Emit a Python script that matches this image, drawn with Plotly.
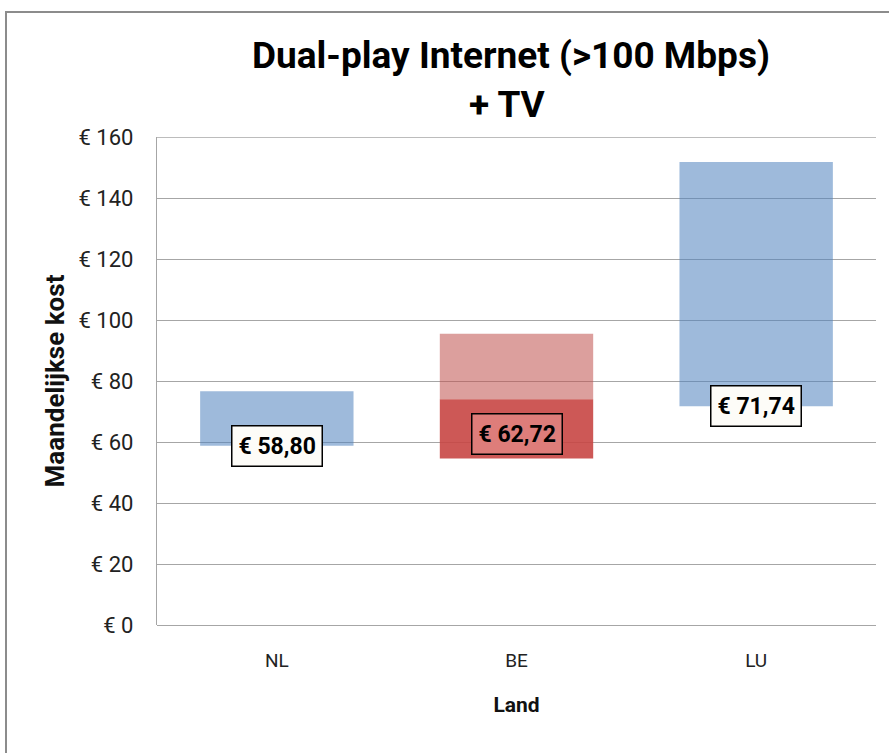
import plotly.graph_objects as go

categories = ["NL", "BE", "LU"]
# floating ranges (min .. max) of monthly cost
range_low = [58.80, 54.6, 71.74]
range_high = [76.6, 74.0, 151.8]
# extra (lighter) range on top for BE
extra_low = [None, 74.0, None]
extra_high = [None, 95.5, None]
label_values = [58.80, 62.72, 71.74]
y_ticks = [0, 20, 40, 60, 80, 100, 120, 140, 160]

FONT = "Roboto, sans-serif"

main_colors = ["rgba(79,129,189,0.55)", "rgba(200,70,68,0.9)", "rgba(79,129,189,0.55)"]

fig = go.Figure()
fig.add_trace(go.Bar(
    x=categories,
    y=[h - l for h, l in zip(range_high, range_low)],
    base=range_low,
    marker=dict(color=main_colors, line=dict(width=0)),
    width=0.64,
    hoverinfo="skip",
))
fig.add_trace(go.Bar(
    x=categories,
    y=[(h - l) if h is not None else None for h, l in zip(extra_high, extra_low)],
    base=extra_low,
    marker=dict(color="rgba(192,80,77,0.55)", line=dict(width=0)),
    width=0.64,
    hoverinfo="skip",
))

label_bg = ["#fdfcf8", "#de7d7a", "#fdfcf8"]
for c, v, bg in zip(categories, label_values, label_bg):
    fig.add_annotation(
        x=c, y=v, xref="x", yref="y",
        text="<b>€ " + f"{v:.2f}".replace(".", ",") + "</b>",
        showarrow=False,
        font=dict(family=FONT, size=23, color="black"),
        bgcolor=bg, bordercolor="black", borderwidth=1.5, borderpad=6,
        xanchor="center", yanchor="middle",
    )

L, R, T, B = 157, 13, 137, 128
W, H = 889, 753
pw, ph = W - L - R, H - T - B

def px(x):
    return (x - L) / pw

def py(y):
    return (H - B - y) / ph

fig.add_annotation(x=px(511), y=py(55), xref="paper", yref="paper",
                   text="<b>Dual-play Internet (>100 Mbps)</b>", showarrow=False,
                   font=dict(family=FONT, size=37, color="black"),
                   xanchor="center", yanchor="middle")
fig.add_annotation(x=px(507), y=py(105), xref="paper", yref="paper",
                   text="<b>+ TV</b>", showarrow=False,
                   font=dict(family=FONT, size=37, color="black"),
                   xanchor="center", yanchor="middle")

# outer chart frame
fig.add_shape(type="rect", xref="paper", yref="paper",
              x0=px(6), x1=px(900), y0=py(760), y1=py(12),
              line=dict(color="#8c8c8c", width=2), layer="below")
# top gridline (at the axis maximum)
fig.add_shape(type="line", xref="paper", yref="y",
              x0=0, x1=1, y0=y_ticks[-1], y1=y_ticks[-1],
              line=dict(color="#a6a6a6", width=1.4), layer="below")

fig.update_layout(
    width=W, height=H,
    margin=dict(l=L, r=R, t=T, b=B),
    paper_bgcolor="white", plot_bgcolor="white",
    barmode="overlay", showlegend=False,
    font=dict(family=FONT, color="#222"),
)
fig.update_xaxes(
    showgrid=False, showline=False, zeroline=False,
    tickfont=dict(family=FONT, size=19, color="#222"),
    ticklabelstandoff=22,
    title=dict(text="<b>Land</b>", font=dict(family=FONT, size=21, color="#111"), standoff=26),
)
fig.update_yaxes(
    range=[0, 160], tickvals=y_ticks,
    ticktext=["€ " + str(t) for t in y_ticks],
    showgrid=True, gridcolor="#a6a6a6", gridwidth=1.4,
    showline=True, linecolor="#a6a6a6", linewidth=1.4,
    zeroline=True, zerolinecolor="#a6a6a6", zerolinewidth=1.4,
    tickfont=dict(family=FONT, size=22, color="#222"),
    ticklabelstandoff=18,
    title=dict(text="<b>Maandelijkse kost</b>", font=dict(family=FONT, size=26, color="#111"), standoff=6),
)

fig.write_html("out.html",
               config={"displayModeBar": False},
               post_script="document.body.style.margin='0';document.body.style.overflow='hidden';")
